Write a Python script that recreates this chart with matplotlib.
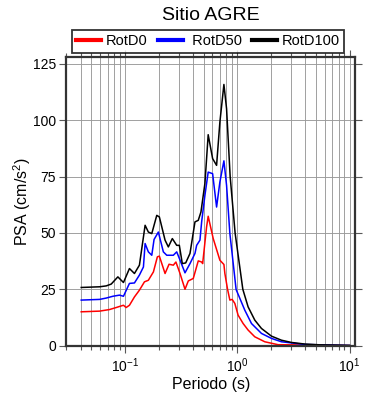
import matplotlib
matplotlib.use("Agg")
import matplotlib.pyplot as plt

plt.rcParams['font.family'] = ['Liberation Sans', 'DejaVu Sans']
plt.rcParams['mathtext.fontset'] = 'custom'
plt.rcParams['mathtext.rm'] = 'Liberation Sans'
plt.rcParams['mathtext.it'] = 'Liberation Sans:italic'
plt.rcParams['mathtext.bf'] = 'Liberation Sans:bold'

# --- data (period in s, PSA in cm/s^2) ---
t_d100 = [0.0406, 0.0591, 0.0678, 0.0751, 0.0861, 0.0966, 0.1092, 0.121, 0.134,
          0.1506, 0.161, 0.1727, 0.1913, 0.2018, 0.2268, 0.2426, 0.2633, 0.2881,
          0.3041, 0.3231, 0.3465, 0.3784, 0.419, 0.4484, 0.4738, 0.514, 0.5497,
          0.602, 0.6531, 0.6988, 0.759, 0.8017, 0.863, 0.955, 1.119, 1.247,
          1.431, 1.641, 2.014, 2.471, 3.033, 3.981, 5.41, 10.0]
psa_d100 = [25.8, 26.1, 26.5, 27.3, 30.5, 28.0, 34.2, 32.0, 35.7,
            53.4, 50.4, 49.7, 57.8, 57.1, 46.8, 43.8, 47.5, 44.5,
            44.5, 36.4, 36.7, 40.9, 54.9, 55.6, 59.3, 72.0, 93.6,
            83.0, 80.0, 99.2, 115.9, 105.1, 75.0, 50.0, 25.0, 17.2,
            11.3, 7.6, 4.2, 2.4, 1.4, 0.7, 0.35, 0.1]

t_d50 = [0.0406, 0.0591, 0.0678, 0.0778, 0.089, 0.0966, 0.1092, 0.121, 0.134,
         0.1455, 0.1506, 0.161, 0.1727, 0.181, 0.1977, 0.219, 0.2348, 0.2688,
         0.2881, 0.3041, 0.3415, 0.3784, 0.419, 0.4338, 0.4642, 0.4806, 0.514,
         0.5497, 0.602, 0.6531, 0.6988, 0.759, 0.8017, 0.858, 0.975, 1.166,
         1.337, 1.641, 2.014, 2.471, 3.981, 10.0]
psa_d50 = [20.2, 20.5, 21.1, 21.9, 22.4, 21.9, 27.6, 27.8, 31.3,
           34.9, 45.3, 41.6, 40.1, 47.1, 50.4, 41.6, 40.1, 40.1,
           41.6, 38.7, 32.3, 36.4, 40.9, 44.5, 46.8, 54.9, 66.7,
           77.0, 76.3, 61.5, 72.6, 82.0, 71.1, 49.7, 24.9, 15.7,
           9.8, 5.4, 3.2, 1.7, 0.5, 0.05]

t_d0 = [0.0406, 0.0591, 0.0725, 0.0832, 0.0921, 0.0966, 0.102, 0.1092, 0.121,
        0.134, 0.1486, 0.161, 0.1786, 0.1937, 0.2018, 0.2268, 0.2461, 0.2688,
        0.2834, 0.3084, 0.3415, 0.3655, 0.4047, 0.4484, 0.4806, 0.4907, 0.532,
        0.5497, 0.6095, 0.6988, 0.759, 0.7742, 0.818, 0.8577, 0.899, 0.95,
        1.016, 1.126, 1.247, 1.431, 1.756, 2.306, 10.0]
psa_d0 = [15.0, 15.3, 16.0, 16.9, 17.6, 17.9, 16.9, 17.9, 21.6,
          24.6, 28.3, 29.0, 32.7, 39.4, 39.7, 32.0, 36.1, 35.7,
          37.1, 32.0, 25.0, 28.7, 29.8, 37.6, 37.1, 36.4, 52.7,
          57.4, 47.5, 37.9, 36.0, 32.0, 25.0, 20.2, 20.5, 18.7,
          13.5, 9.8, 6.9, 3.9, 1.7, 0.4, 0.0]

y_ticks = [0, 25, 50, 75, 100, 125]

fig = plt.figure(figsize=(3.9, 4.0), dpi=100)
ax = fig.add_axes([0.1705, 0.136, 0.741, 0.721])

ax.plot(t_d0, psa_d0, color='red', lw=1.1, label='RotD0')
ax.plot(t_d50, psa_d50, color='blue', lw=1.1, label=' RotD50')
ax.plot(t_d100, psa_d100, color='black', lw=1.1, label='RotD100')

ax.set_xscale('log')
ax.set_xlim(0.03, 11.3)
ax.set_ylim(0, 128)
ax.set_yticks(y_ticks)

ax.grid(True, which='major', color='0.6', lw=0.65)
ax.grid(True, which='minor', axis='x', color='0.6', lw=0.65)
ax.set_axisbelow(True)

for s in ax.spines.values():
    s.set_color('0.2')
    s.set_linewidth(1.6)
ax.tick_params(which='both', direction='out', top=True, right=True,
               color='0.35', width=0.8, labelsize=10)
ax.tick_params(which='major', length=5, pad=2.5)
ax.tick_params(which='minor', length=3)

ax.set_xlabel('Periodo (s)', fontsize=11.5, labelpad=2)
ax.set_ylabel('PSA (cm/s$^2$)', fontsize=11.5, labelpad=0)
ax.set_title('Sitio AGRE', fontsize=14, pad=26.5)

leg = ax.legend(loc='lower center', bbox_to_anchor=(0.49, 1.015), ncol=3,
                fontsize=10.5, frameon=True, fancybox=False, borderpad=0.3,
                handlelength=1.7, handletextpad=0.35, columnspacing=0.7,
                borderaxespad=0)
leg.get_frame().set_edgecolor('black')
leg.get_frame().set_linewidth(1.3)
for ln in leg.get_lines():
    ln.set_linewidth(3)

fig.savefig('out.png', dpi=100)
